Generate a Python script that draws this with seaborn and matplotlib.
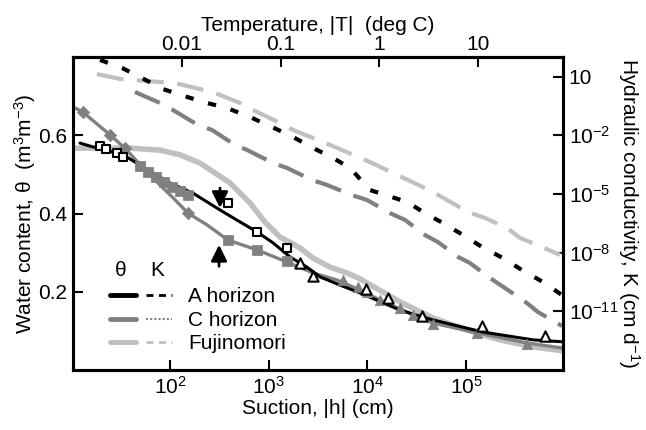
import numpy as np
import matplotlib
matplotlib.use("Agg")
import matplotlib.pyplot as plt
import seaborn as sns
from matplotlib.lines import Line2D
from matplotlib.legend_handler import HandlerTuple

sns.set_theme(style="ticks")
plt.rcParams['font.family'] = ['Liberation Sans', 'DejaVu Sans']
plt.rcParams['mathtext.fontset'] = 'custom'
plt.rcParams['mathtext.rm'] = 'Liberation Sans'
plt.rcParams['mathtext.it'] = 'Liberation Sans:italic'
plt.rcParams['figure.facecolor'] = 'white'
for key in ['axes.edgecolor', 'xtick.color', 'ytick.color', 'text.color', 'axes.labelcolor']:
    plt.rcParams[key] = 'black'

BLACK = "#000000"
GRAY = "#808080"
LIGHT = "#c0c0c0"

# water retention curves (log10 suction [cm], theta [m3/m3])
a_theta_logh = [1.088, 1.220, 1.361, 1.564, 1.726, 2.000, 2.233, 2.507, 2.679, 2.882,
                3.044, 3.216, 3.388, 3.520, 3.723, 3.926, 4.331, 4.665, 5.172, 5.679, 5.983]
a_theta = [0.580, 0.570, 0.562, 0.544, 0.519, 0.478, 0.452, 0.409, 0.383, 0.353,
           0.325, 0.289, 0.263, 0.238, 0.217, 0.197, 0.153, 0.128, 0.097, 0.077, 0.072]

c_theta_logh = [1.037, 1.118, 1.392, 1.544, 1.747, 1.899, 2.051, 2.182, 2.375, 2.588, 2.882,
                3.186, 3.449, 3.692, 3.926, 4.128, 4.463, 4.665, 5.111, 5.618, 5.983]
c_theta = [0.670, 0.659, 0.601, 0.567, 0.511, 0.473, 0.435, 0.401, 0.371, 0.332, 0.307,
           0.276, 0.248, 0.230, 0.204, 0.179, 0.141, 0.120, 0.095, 0.069, 0.056]

f_theta_logh = [1.017, 1.595, 1.899, 2.101, 2.304, 2.608, 2.811, 2.963, 3.115, 3.318,
                3.449, 3.622, 3.794, 3.926, 4.331, 4.665, 5.010, 5.344, 5.679, 5.983]
f_theta = [0.567, 0.567, 0.562, 0.550, 0.529, 0.478, 0.427, 0.378, 0.340, 0.312,
           0.286, 0.263, 0.248, 0.233, 0.174, 0.133, 0.102, 0.077, 0.059, 0.049]

# measured points
a_sq_logh = [1.291, 1.351, 1.463, 1.524, 2.588, 2.882, 3.186]
a_sq_theta = [0.573, 0.565, 0.555, 0.544, 0.427, 0.353, 0.312]
a_tri_logh = [3.318, 3.449, 3.986, 4.209, 4.554, 5.162, 5.801]
a_tri_theta = [0.273, 0.240, 0.207, 0.184, 0.138, 0.112, 0.087]
c_sq_logh = [1.696, 1.777, 1.858, 1.939, 2.020, 2.101, 2.182, 2.588, 2.882, 3.186]
c_sq_theta = [0.521, 0.506, 0.493, 0.481, 0.468, 0.458, 0.447, 0.332, 0.307, 0.279]
c_dia_logh = [1.118, 1.392, 1.544, 2.182]
c_dia_theta = [0.659, 0.601, 0.567, 0.401]
c_tri_logh = [3.753, 3.905, 3.997, 4.128, 4.331, 4.463, 4.665, 5.111, 5.618]
c_tri_theta = [0.230, 0.212, 0.199, 0.179, 0.158, 0.141, 0.118, 0.095, 0.066]

# hydraulic conductivity curves (log10 suction, log10 K [cm/d])
a_k_logh = [1.291, 1.514, 1.696, 1.929, 2.172, 2.375, 2.578, 2.811, 3.034, 3.247, 3.449,
            3.652, 3.824, 4.027, 4.402, 4.584, 4.767, 4.970, 5.162, 5.375, 5.567, 5.780, 5.973]
a_k_log = [1.85, 1.44, 0.98, 0.36, -0.04, -0.35, -0.61, -1.07, -1.58, -2.09, -2.65,
           -3.16, -3.67, -4.80, -5.41, -5.98, -6.49, -7.10, -7.71, -8.28, -8.89, -9.50, -10.17]
c_k_logh = [1.645, 1.899, 2.030, 2.284, 2.426, 2.659, 2.780, 3.044, 3.186, 3.439, 3.591, 3.844,
            3.997, 4.230, 4.382, 4.584, 4.716, 4.919, 5.040, 5.243, 5.395, 5.618, 5.730, 5.973]
c_k_log = [0.21, -0.35, -0.71, -1.48, -1.73, -2.50, -2.75, -3.42, -3.67, -4.29, -4.54, -5.06,
           -5.31, -5.98, -6.33, -7.10, -7.46, -8.22, -8.53, -9.30, -9.81, -10.58, -11.04, -11.75]
f_k_logh = [1.260, 1.493, 1.899, 2.051, 2.304, 2.456, 2.709, 2.841, 3.095, 3.247, 3.500, 3.672,
            4.027, 4.412, 4.665, 4.807, 5.020, 5.192, 5.415, 5.547, 5.770, 5.953]
f_k_log = [1.13, 0.88, 0.72, 0.67, 0.36, 0.16, -0.35, -0.71, -1.32, -1.73, -2.24, -2.60,
           -3.37, -4.29, -4.90, -5.31, -5.92, -6.23, -6.74, -7.25, -7.71, -8.12]

# arrows (suction cm, theta from -> to)
arrow_down = (321, 0.472, 0.407)
arrow_up = (314, 0.258, 0.327)

temp_ticks = [0.01, 0.1, 1, 10]
temp_labels = ["0.01", "0.1", "1", "10"]
H_PER_DEG = 13200.0

FS = 15


def h(v):
    return 10 ** np.asarray(v)


fig = plt.figure(figsize=(6.46, 4.30), dpi=100)
ax = fig.add_axes([73 / 646, 60 / 430, 490 / 646, 313 / 430])
ax2 = ax.twinx()

# theta curves
sns.lineplot(x=h(f_theta_logh), y=f_theta, ax=ax, color=LIGHT, lw=4.0, sort=False, estimator=None)
sns.lineplot(x=h(c_theta_logh), y=c_theta, ax=ax, color=GRAY, lw=2.4, sort=False, estimator=None)
sns.lineplot(x=h(a_theta_logh), y=a_theta, ax=ax, color=BLACK, lw=2.2, sort=False, estimator=None)

# measured points
sns.scatterplot(x=h(c_sq_logh), y=c_sq_theta, ax=ax, marker='s', s=45, color=GRAY, edgecolor=GRAY, zorder=4)
sns.scatterplot(x=h(c_dia_logh), y=c_dia_theta, ax=ax, marker='D', s=40, color=GRAY, edgecolor=GRAY, zorder=4)
sns.scatterplot(x=h(c_tri_logh), y=c_tri_theta, ax=ax, marker='^', s=55, color=GRAY, edgecolor=GRAY, zorder=4)
sns.scatterplot(x=h(a_sq_logh), y=a_sq_theta, ax=ax, marker='s', s=40, facecolor='white',
                edgecolor=BLACK, linewidth=1.5, zorder=5)
sns.scatterplot(x=h(a_tri_logh), y=a_tri_theta, ax=ax, marker='^', s=55, facecolor='white',
                edgecolor=BLACK, linewidth=1.5, zorder=5)

# conductivity curves
sns.lineplot(x=h(f_k_logh), y=h(f_k_log), ax=ax2, color=LIGHT, lw=3.0,
             linestyle=(0, (6.5, 3.2)), sort=False, estimator=None)
sns.lineplot(x=h(c_k_logh), y=h(c_k_log), ax=ax2, color=GRAY, lw=3.0,
             linestyle=(0, (6.5, 3.2)), sort=False, estimator=None)
sns.lineplot(x=h(a_k_logh), y=h(a_k_log), ax=ax2, color=BLACK, lw=3.0,
             linestyle=(0, (2.0, 3.6)), sort=False, estimator=None)

for hx, y0, y1 in [arrow_down, arrow_up]:
    ax.annotate("", xy=(hx, y1), xytext=(hx, y0),
                arrowprops=dict(arrowstyle='-|>', color=BLACK, lw=2, mutation_scale=24))

ax.set_xscale('log')
ax.set_xlim(10 ** 1.017, 10 ** 5.983)
ax.set_ylim(0, 0.8)
ax2.set_yscale('log')
ax2.set_ylim(1e-14, 1e2)

ax.set_xticks([1e2, 1e3, 1e4, 1e5])
ax.set_xticklabels([r"$\mathregular{10^{%d}}$" % p for p in [2, 3, 4, 5]])
ax.set_yticks([0.2, 0.4, 0.6])
ax.set_yticklabels(["0.2", "0.4", "0.6"])
ax2.set_yticks([1e1, 1e-2, 1e-5, 1e-8, 1e-11])
ax2.set_yticklabels(["10", r"$\mathregular{10^{-2}}$", r"$\mathregular{10^{-5}}$",
                     r"$\mathregular{10^{-8}}$", r"$\mathregular{10^{-11}}$"])
ax.minorticks_off()
ax2.minorticks_off()

top = ax.secondary_xaxis('top', functions=(lambda x: x / H_PER_DEG, lambda t: t * H_PER_DEG))
top.set_xticks(temp_ticks)
top.set_xticklabels(temp_labels)
top.minorticks_off()
top.tick_params(direction='in', length=7, width=1.5, labelsize=FS, pad=2)
top.set_xlabel("Temperature, |T|  (deg C)", fontsize=FS, labelpad=3)
for sp in top.spines.values():
    sp.set_linewidth(2.2)

ax.tick_params(direction='in', length=7, width=1.5, labelsize=FS, pad=4)
ax2.tick_params(direction='in', length=7, width=1.5, labelsize=FS, pad=4)
for a in (ax, ax2):
    for sp in a.spines.values():
        sp.set_linewidth(2.2)
        sp.set_visible(True)

ax.set_xlabel("Suction, |h| (cm)", fontsize=FS, labelpad=1)
ax.set_ylabel(r"Water content, θ  (m$\mathregular{^3}$m$\mathregular{^{-3}}$)", fontsize=FS, labelpad=0)
ax2.set_ylabel(r"Hydraulic conductivity, K (cm d$\mathregular{^{-1}}$)", fontsize=FS,
               rotation=270, labelpad=17)

# legend: theta column and K column
handles = [
    (Line2D([], [], color=BLACK, lw=3.5), Line2D([], [], color=BLACK, lw=2.0, ls=(0, (2.5, 2)))),
    (Line2D([], [], color=GRAY, lw=3.5), Line2D([], [], color=GRAY, lw=1.5, ls=(0, (1, 1)))),
    (Line2D([], [], color=LIGHT, lw=3.5), Line2D([], [], color=LIGHT, lw=2.0, ls=(0, (2.5, 2)))),
]
labels = ["A horizon", "C horizon", "Fujinomori"]
ax.legend(handles, labels, handler_map={tuple: HandlerTuple(ndivide=None, pad=0.48)},
          loc='lower left', bbox_to_anchor=(0.075, 0.053), frameon=False, fontsize=FS,
          handlelength=3.0, handletextpad=0.75, labelspacing=0.22, borderpad=0, borderaxespad=0)
ax.text(0.098, 0.318, "θ", transform=ax.transAxes, fontsize=FS, ha='center', va='center')
ax.text(0.171, 0.318, "K", transform=ax.transAxes, fontsize=FS, ha='center', va='center')

fig.savefig("out.png", dpi=100)
